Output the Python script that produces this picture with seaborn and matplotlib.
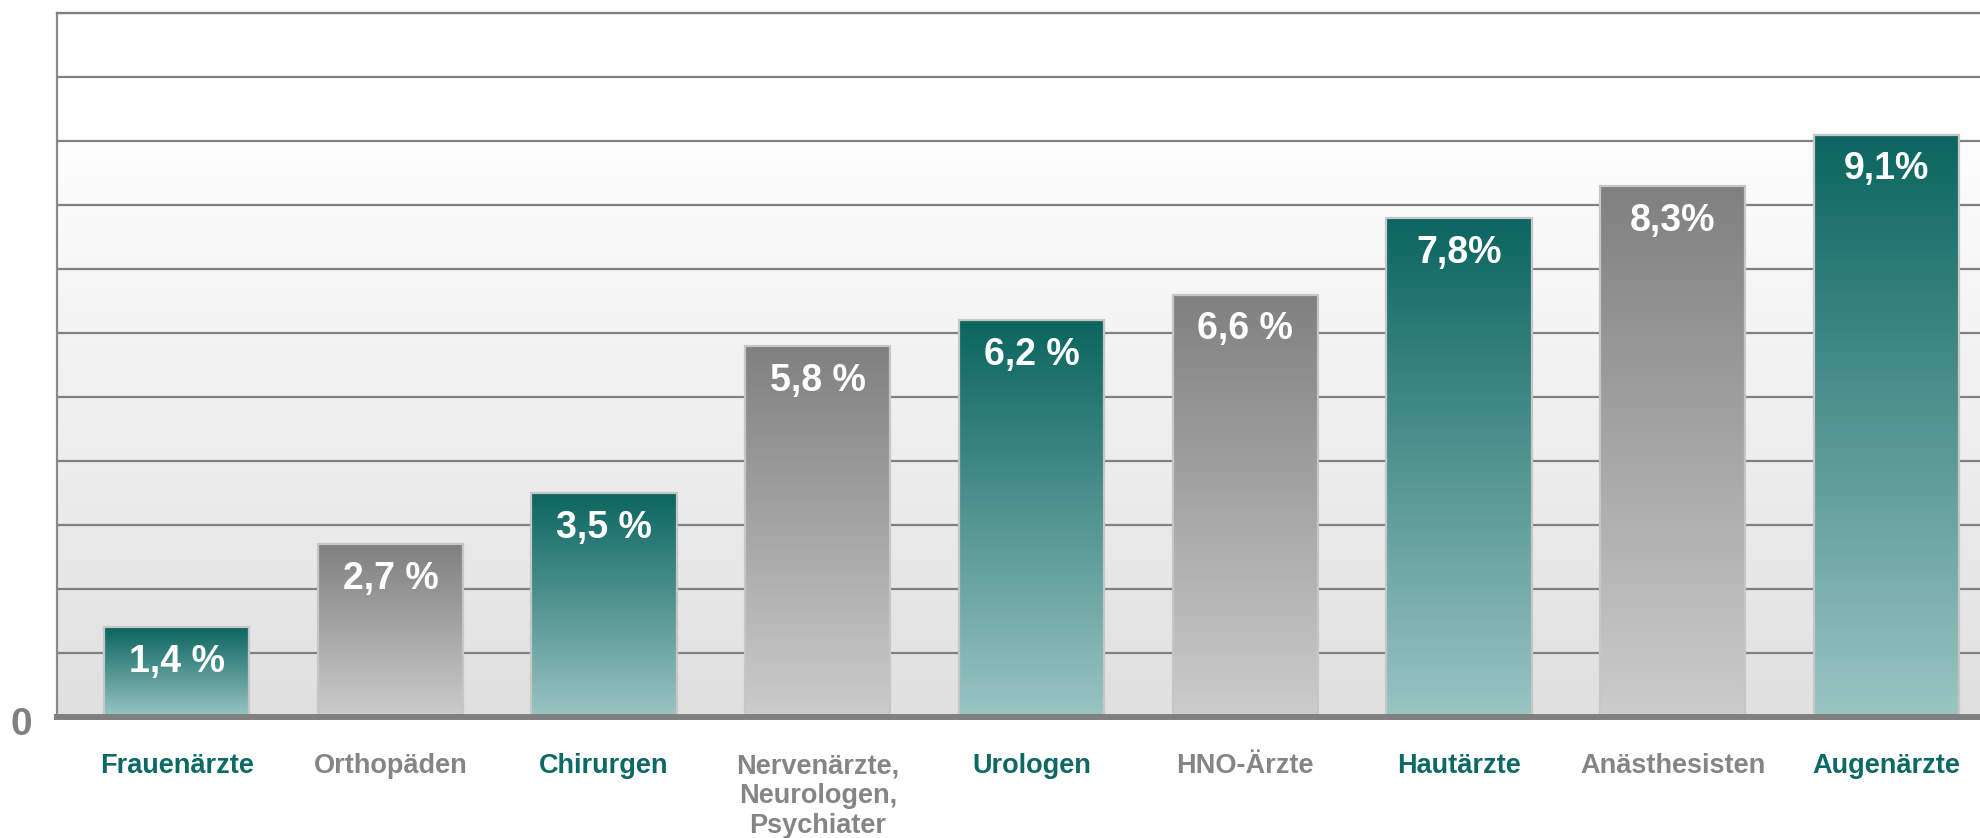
import numpy as np
import matplotlib
matplotlib.use("Agg")
import matplotlib.pyplot as plt
from matplotlib.colors import LinearSegmentedColormap
import seaborn as sns

# data
categories = ["Frauenärzte", "Orthopäden", "Chirurgen", "Nervenärzte,\nNeurologen,\nPsychiater",
              "Urologen", "HNO-Ärzte", "Hautärzte", "Anästhesisten", "Augenärzte"]
values = [1.4, 2.7, 3.5, 5.8, 6.2, 6.6, 7.8, 8.3, 9.1]
value_labels = ["1,4 %", "2,7 %", "3,5 %", "5,8 %", "6,2 %", "6,6 %", "7,8%", "8,3%", "9,1%"]
bar_style = ["teal", "grey", "teal", "grey", "teal", "grey", "teal", "grey", "teal"]

sns.set_style("white")
plt.rcParams["font.family"] = ["Liberation Sans", "DejaVu Sans"]

teal_cmap = LinearSegmentedColormap.from_list("teal", ["#9ac5c3", "#0b6560"])
grey_cmap = LinearSegmentedColormap.from_list("grey", ["#cccccc", "#808080"])
bg_cmap = LinearSegmentedColormap.from_list("bg", [(0, "#e0e0e0"), (0.85, "#ffffff"), (1, "#ffffff")])
label_colors = {"teal": "#0d6964", "grey": "#858585"}

fig = plt.figure(figsize=(19.8, 8.38), dpi=100)
ax = fig.add_axes([57 / 1980, 121 / 838, (2006 - 57) / 1980, 704 / 838])

sns.barplot(x=list(range(len(values))), y=values, color="#808080", width=0.68, ax=ax)

xlim = (-0.56, 8.56)
ylim = (0, 11)

# plot area background gradient
grad = np.linspace(0, 1, 256).reshape(-1, 1)
ax.imshow(grad, cmap=bg_cmap, origin="lower", aspect="auto",
          extent=[xlim[0], xlim[1], ylim[0], ylim[1]], zorder=0)

# bars with vertical gradients
for patch, style, lab in zip(ax.patches, bar_style, value_labels):
    x0, y0 = patch.get_x(), patch.get_y()
    w, h = patch.get_width(), patch.get_height()
    patch.set_facecolor("none")
    patch.set_edgecolor("#c6c6c6")
    patch.set_linewidth(1.6)
    patch.set_zorder(4)
    cmap = teal_cmap if style == "teal" else grey_cmap
    ax.imshow(grad, cmap=cmap, origin="lower", aspect="auto",
              extent=[x0, x0 + w, y0, y0 + h], zorder=3)
    ax.annotate(lab, (x0 + w / 2, y0 + h), xytext=(0, -25), textcoords="offset points",
                ha="center", va="center", color="white", fontsize=27, fontweight="bold", zorder=5)

ax.set_xlim(*xlim)
ax.set_ylim(*ylim)

# grid lines every unit, only the zero gets a label
ax.set_yticks(range(12))
ax.set_yticklabels([])
ax.yaxis.grid(True, color="#808080", linewidth=1.6, zorder=1)
ax.set_axisbelow(True)
ax.tick_params(axis="y", length=0)
ax.annotate("0", (0, 0), xycoords="axes fraction", xytext=(-18, -6), textcoords="offset points",
            ha="right", va="center", fontsize=28, fontweight="bold", color="#808080",
            annotation_clip=False)

ax.set_xticks(range(len(categories)))
ax.set_xticklabels(categories, fontsize=19.5, fontweight="bold", linespacing=1.2)
ax.tick_params(axis="x", length=0, pad=26)
for t, style in zip(ax.get_xticklabels(), bar_style):
    t.set_color(label_colors[style])

ax.spines["right"].set_visible(False)
ax.spines["top"].set_color("#808080")
ax.spines["top"].set_linewidth(1.6)
ax.spines["left"].set_color("#8a8a8a")
ax.spines["left"].set_linewidth(1.6)
ax.spines["bottom"].set_color("#808080")
ax.spines["bottom"].set_linewidth(4.3)
ax.spines["bottom"].set_zorder(6)
ax.set_xlabel("")
ax.set_ylabel("")

fig.savefig("out.png", dpi=100)
